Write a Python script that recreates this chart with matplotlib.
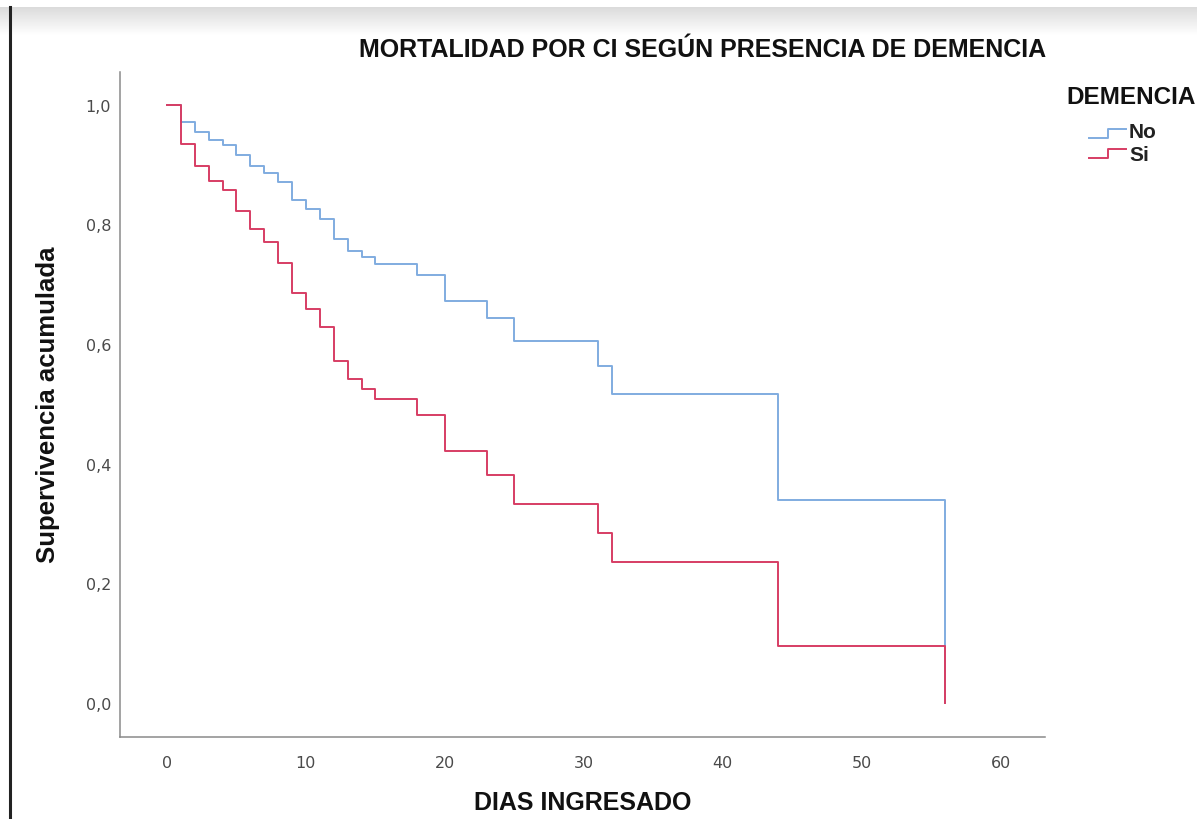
import numpy as np
import matplotlib
matplotlib.use("Agg")
import matplotlib.pyplot as plt
from matplotlib.lines import Line2D

# ---- data ----
days_no = [0, 1, 2, 3, 4, 5, 6, 7, 8, 9, 10, 11, 12, 13, 14, 15, 18, 20, 23, 25, 31, 32, 44, 56]
surv_no = [1.0, 0.971, 0.954, 0.941, 0.932, 0.916, 0.898, 0.886, 0.870, 0.840, 0.825, 0.809,
           0.775, 0.755, 0.745, 0.733, 0.715, 0.672, 0.644, 0.605, 0.563, 0.516, 0.340, 0.0]
days_si = [0, 1, 2, 3, 4, 5, 6, 7, 8, 9, 10, 11, 12, 13, 14, 15, 18, 20, 23, 25, 31, 32, 44, 56]
surv_si = [1.0, 0.934, 0.897, 0.873, 0.858, 0.822, 0.793, 0.771, 0.736, 0.686, 0.658, 0.629,
           0.571, 0.541, 0.525, 0.508, 0.482, 0.421, 0.382, 0.333, 0.285, 0.236, 0.096, 0.0]
x_ticks = [0, 10, 20, 30, 40, 50, 60]
y_ticks = [0.0, 0.2, 0.4, 0.6, 0.8, 1.0]
y_ticklabels = ["0,0", "0,2", "0,4", "0,6", "0,8", "1,0"]
series_labels = ["No", "Si"]
title = "MORTALIDAD POR CI SEGÚN PRESENCIA DE DEMENCIA"
legend_title = "DEMENCIA"
xlabel = "DIAS INGRESADO"
ylabel = "Supervivencia acumulada"

BLUE = "#80ace0"
RED = "#d73d64"

W, H = 1197, 820
fig = plt.figure(figsize=(W / 100, H / 100), dpi=100)
fig.patch.set_facecolor("white")

def fx(px):
    return px / W

def fy(py):
    return 1 - py / H

# screenshot decoration: top gray gradient band and left dark edge
bg = fig.add_axes([0, fy(36), 1, fy(8) - fy(36)], zorder=-5)
grad = np.linspace(0.86, 1.0, 64).reshape(-1, 1)
bg.imshow(np.dstack([grad, grad, grad]), aspect="auto", extent=[0, 1, 1, 0])
bg.set_axis_off()
fig.add_artist(Line2D([fx(9.5), fx(9.5)], [fy(8), 0], color="#222222", lw=2.2,
                      transform=fig.transFigure))

# main axes
ax = fig.add_axes([fx(119.5), fy(737.7), fx(1045) - fx(119.5), fy(73) - fy(737.7)])
ax.step(days_no, surv_no, where="post", color=BLUE, lw=1.4, zorder=2)
ax.step(days_si, surv_si, where="post", color=RED, lw=1.4, zorder=3)

ax.set_xlim(-3.42, 63.2)
ax.set_ylim(-0.056, 1.0545)
for s in ["top", "right"]:
    ax.spines[s].set_visible(False)
for s in ["left", "bottom"]:
    ax.spines[s].set_color("#8a8a8a")
    ax.spines[s].set_linewidth(1.1)

ax.set_xticks(x_ticks)
ax.set_xticklabels([str(t) for t in x_ticks])
ax.set_yticks(y_ticks)
ax.set_yticklabels(y_ticklabels)
ax.tick_params(axis="both", length=0, labelsize=11.5, labelcolor="#4a4a4a")
ax.tick_params(axis="x", pad=13)
ax.tick_params(axis="y", pad=6)

big = ["Liberation Sans", "DejaVu Sans"]
fig.text(fx(703), fy(50), title, ha="center", va="center", fontsize=18,
         fontweight="bold", family=big, color="#111111")
fig.text(fx(583), fy(803), xlabel, ha="center", va="center", fontsize=18,
         fontweight="bold", family=big, color="#111111")
fig.text(fx(48), fy(405), ylabel, ha="center", va="center", rotation=90, fontsize=18.5,
         fontweight="bold", family=big, color="#111111")

# legend (step-shaped handles as in the reference)
fig.text(fx(1066), fy(97), legend_title, ha="left", va="center", fontsize=17.5,
         fontweight="bold", family=big, color="#111111")
for i, (lab, col) in enumerate(zip(series_labels, [BLUE, RED])):
    ylow = 139 + 20 * i
    yhigh = ylow - 9.5
    fig.add_artist(Line2D([fx(1089), fx(1107.6), fx(1107.6), fx(1126)],
                          [fy(ylow), fy(ylow), fy(yhigh), fy(yhigh)],
                          color=col, lw=1.4, transform=fig.transFigure))
    fig.text(fx(1129), fy(133 + 22.5 * i), lab, ha="left", va="center", fontsize=15,
             fontweight="bold", family=big, color="#222222")

fig.savefig("out.png", dpi=100, facecolor="white")
